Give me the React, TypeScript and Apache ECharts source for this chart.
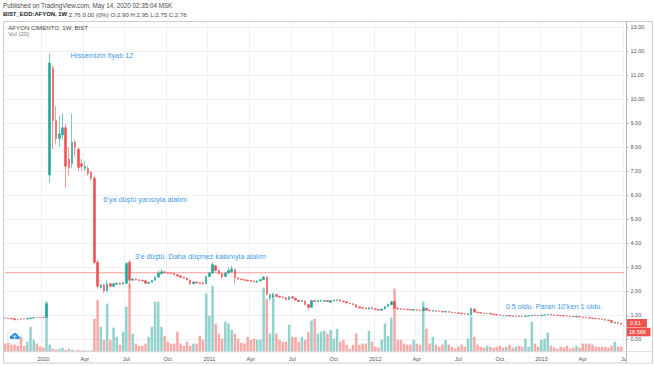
import React, { useEffect, useRef } from "react";
import * as echarts from "echarts";

// Weekly candles [open, close, low, high], week of 2009-10-12 onward
const candles: number[][] = [
  [0.88, 0.87, 0.86, 0.89], [0.87, 0.86, 0.85, 0.88], [0.86, 0.84, 0.83, 0.87], [0.84, 0.8, 0.79, 0.85],
  [0.81, 0.8, 0.78, 0.82], [0.84, 0.83, 0.81, 0.86], [0.84, 0.83, 0.82, 0.85], [0.83, 0.86, 0.82, 0.87],
  [0.85, 0.88, 0.84, 0.89], [0.87, 0.89, 0.86, 0.9], [0.9, 0.89, 0.88, 0.91], [0.9, 0.89, 0.88, 0.91],
  [0.9, 0.89, 0.88, 0.92], [0.9, 1.45, 0.89, 1.55], [6.83, 11.5, 6.5, 11.9], [11.27, 9.1, 7.9, 11.4],
  [9.1, 8.35, 8.1, 9.7], [8.35, 8.55, 8.0, 9.3], [8.5, 8.8, 8.3, 9.4], [8.8, 7.2, 6.3, 8.95],
  [7.5, 7.15, 6.8, 8.0], [7.3, 8.2, 7.1, 9.4], [8.2, 7.98, 7.6, 8.3], [7.9, 7.15, 7.0, 8.0],
  [7.3, 7.2, 7.0, 7.5], [7.1, 7.2, 7.0, 7.4], [7.1, 6.9, 6.8, 7.2], [6.95, 6.7, 6.6, 7.0],
  [6.7, 3.2, 3.1, 6.8], [3.2, 2.2, 2.1, 3.3], [2.15, 2.25, 2.1, 2.3], [2.25, 2.0, 1.92, 2.3],
  [2.0, 2.3, 1.98, 2.45], [2.3, 2.2, 2.15, 2.35], [2.2, 2.3, 2.15, 2.35], [2.28, 2.32, 2.25, 2.36],
  [2.32, 2.28, 2.25, 2.35], [2.28, 2.34, 2.26, 2.37], [2.32, 3.15, 2.3, 3.2], [3.2, 2.45, 2.1, 3.3],
  [2.45, 2.5, 2.42, 2.53], [2.5, 2.46, 2.44, 2.52], [2.47, 2.44, 2.42, 2.49], [2.45, 2.42, 2.4, 2.47],
  [2.43, 2.32, 2.3, 2.45], [2.32, 2.36, 2.28, 2.38], [2.36, 2.45, 2.34, 2.47], [2.45, 2.58, 2.43, 2.6],
  [2.58, 2.75, 2.55, 2.85], [2.72, 2.8, 2.7, 2.9], [2.8, 2.76, 2.74, 2.82], [2.77, 2.74, 2.72, 2.79],
  [2.75, 2.72, 2.7, 2.77], [2.73, 2.68, 2.66, 2.75], [2.68, 2.62, 2.6, 2.7], [2.63, 2.57, 2.55, 2.65],
  [2.58, 2.53, 2.51, 2.6], [2.54, 2.46, 2.44, 2.56], [2.46, 2.3, 2.25, 2.48], [2.3, 2.38, 2.28, 2.4],
  [2.38, 2.33, 2.31, 2.4], [2.36, 2.32, 2.3, 2.38], [2.34, 2.3, 2.27, 2.36], [2.3, 2.6, 2.28, 2.63],
  [2.6, 2.75, 2.58, 2.8], [2.75, 3.1, 2.72, 3.2], [3.05, 2.85, 2.82, 3.1], [2.85, 2.72, 2.7, 2.88],
  [2.72, 2.6, 2.5, 2.75], [2.6, 2.75, 2.58, 2.78], [2.75, 2.85, 2.72, 3.0], [2.8, 2.92, 2.78, 3.05],
  [2.9, 2.55, 2.3, 2.92], [2.55, 2.5, 2.48, 2.57], [2.5, 2.47, 2.45, 2.52], [2.47, 2.45, 2.43, 2.49],
  [2.45, 2.42, 2.4, 2.47], [2.44, 2.4, 2.38, 2.46], [2.42, 2.38, 2.36, 2.44], [2.36, 2.42, 2.34, 2.44],
  [2.42, 2.48, 2.4, 2.5], [2.48, 2.58, 2.46, 2.62], [2.58, 1.88, 1.8, 2.6], [1.7, 1.85, 1.6, 1.88],
  [1.75, 1.88, 1.72, 1.92], [1.85, 1.77, 1.75, 1.87], [1.78, 1.74, 1.72, 1.8], [1.75, 1.72, 1.7, 1.77],
  [1.72, 1.64, 1.62, 1.74], [1.64, 1.76, 1.62, 1.78], [1.76, 1.7, 1.68, 1.78], [1.7, 1.62, 1.6, 1.72],
  [1.62, 1.56, 1.54, 1.64], [1.56, 1.6, 1.54, 1.62], [1.58, 1.44, 1.42, 1.6], [1.44, 1.32, 1.22, 1.46],
  [1.32, 1.6, 1.3, 1.62], [1.6, 1.56, 1.54, 1.62], [1.56, 1.6, 1.54, 1.62], [1.58, 1.61, 1.56, 1.63],
  [1.57, 1.6, 1.55, 1.62], [1.6, 1.56, 1.54, 1.62], [1.53, 1.6, 1.51, 1.62], [1.58, 1.62, 1.56, 1.64],
  [1.6, 1.63, 1.58, 1.65], [1.63, 1.58, 1.56, 1.65], [1.58, 1.55, 1.53, 1.6], [1.55, 1.5, 1.48, 1.57],
  [1.5, 1.47, 1.45, 1.52], [1.47, 1.43, 1.41, 1.49], [1.43, 1.32, 1.3, 1.45], [1.34, 1.3, 1.28, 1.36],
  [1.31, 1.28, 1.26, 1.33], [1.29, 1.26, 1.24, 1.31], [1.25, 1.3, 1.23, 1.32], [1.3, 1.26, 1.24, 1.32],
  [1.26, 1.23, 1.21, 1.28], [1.23, 1.2, 1.18, 1.25], [1.2, 1.25, 1.18, 1.27], [1.25, 1.35, 1.23, 1.37],
  [1.35, 1.45, 1.33, 1.47], [1.43, 1.55, 1.41, 1.6], [1.55, 1.28, 1.25, 1.62], [1.28, 1.25, 1.23, 1.3],
  [1.26, 1.24, 1.22, 1.28], [1.25, 1.23, 1.21, 1.27], [1.24, 1.22, 1.2, 1.26], [1.23, 1.21, 1.19, 1.25],
  [1.2, 1.23, 1.18, 1.25], [1.22, 1.2, 1.18, 1.24], [1.2, 1.18, 1.16, 1.22], [1.18, 1.28, 1.16, 1.36],
  [1.28, 1.2, 1.18, 1.3], [1.2, 1.18, 1.16, 1.22], [1.16, 1.19, 1.14, 1.21], [1.18, 1.16, 1.14, 1.2],
  [1.16, 1.15, 1.13, 1.18], [1.15, 1.13, 1.11, 1.17], [1.12, 1.15, 1.1, 1.17], [1.14, 1.12, 1.1, 1.16],
  [1.12, 1.1, 1.08, 1.14], [1.1, 1.09, 1.07, 1.12], [1.09, 1.07, 1.05, 1.11], [1.07, 1.05, 1.03, 1.09],
  [1.05, 1.04, 1.02, 1.07], [1.02, 1.05, 1.0, 1.07], [1.0, 1.28, 0.98, 1.3], [1.25, 1.12, 1.1, 1.27],
  [1.12, 1.1, 1.08, 1.14], [1.1, 1.08, 1.06, 1.12], [1.08, 1.06, 1.04, 1.1], [1.06, 1.07, 1.04, 1.09],
  [1.07, 1.04, 1.02, 1.09], [1.04, 1.02, 1.0, 1.06], [1.02, 1.0, 0.98, 1.04], [1.0, 0.98, 0.96, 1.02],
  [0.98, 0.97, 0.95, 1.0], [0.97, 0.98, 0.95, 1.0], [0.98, 0.96, 0.94, 1.0], [0.96, 0.95, 0.93, 0.98],
  [0.95, 0.96, 0.93, 0.98], [0.96, 0.94, 0.92, 0.98], [0.95, 0.94, 0.92, 0.97], [0.94, 0.96, 0.92, 0.98],
  [0.96, 0.97, 0.94, 0.99], [0.96, 0.99, 0.94, 1.01], [0.99, 0.98, 0.96, 1.01], [0.98, 0.97, 0.95, 1.0],
  [0.97, 0.99, 0.95, 1.01], [0.99, 1.0, 0.97, 1.02], [1.0, 1.02, 0.98, 1.04], [1.02, 1.0, 0.98, 1.04],
  [1.0, 0.99, 0.97, 1.02], [0.99, 0.98, 0.96, 1.01], [0.98, 0.97, 0.95, 1.0], [0.97, 0.96, 0.94, 0.99],
  [0.96, 0.95, 0.93, 0.98], [0.95, 0.94, 0.92, 0.97], [0.94, 0.93, 0.91, 0.96], [0.92, 0.94, 0.9, 0.96],
  [0.94, 0.92, 0.9, 0.96], [0.92, 0.9, 0.88, 0.94], [0.9, 0.89, 0.87, 0.92], [0.89, 0.87, 0.85, 0.91],
  [0.87, 0.86, 0.84, 0.89], [0.86, 0.85, 0.83, 0.88], [0.85, 0.83, 0.81, 0.87], [0.83, 0.82, 0.8, 0.85],
  [0.82, 0.79, 0.77, 0.84], [0.79, 0.77, 0.75, 0.81], [0.77, 0.69, 0.67, 0.79], [0.66, 0.7, 0.64, 0.72],
  [0.69, 0.66, 0.64, 0.71], [0.66, 0.61, 0.6, 0.68],
];

// Weekly volume, thousands
const volumesK: number[] = [
  30, 33, 26, 26, 22, 55, 22, 37, 92, 44, 30, 18, 15, 185, 26, 11, 7, 11, 15, 7,
  11, 7, 4, 7, 4, 4, 4, 4, 122, 192, 92, 44, 178, 44, 89, 55, 26, 74, 166, 252,
  67, 30, 22, 22, 30, 55, 92, 185, 185, 92, 59, 37, 30, 30, 74, 30, 22, 37, 22, 30,
  30, 59, 44, 215, 133, 244, 104, 67, 48, 111, 104, 81, 67, 48, 33, 30, 55, 44, 48, 44,
  44, 237, 196, 67, 204, 67, 44, 37, 37, 100, 55, 55, 37, 55, 44, 74, 115, 122, 67, 74,
  78, 67, 81, 48, 85, 37, 44, 26, 11, 26, 67, 26, 30, 30, 78, 37, 18, 15, 44, 104,
  59, 126, 233, 44, 44, 30, 26, 26, 44, 30, 26, 185, 85, 30, 55, 26, 18, 26, 44, 26,
  18, 11, 18, 26, 18, 48, 130, 55, 26, 18, 15, 22, 18, 15, 18, 22, 15, 18, 26, 15,
  18, 22, 18, 48, 18, 111, 30, 18, 44, 48, 70, 22, 15, 11, 18, 15, 22, 11, 15, 22,
  15, 30, 30, 30, 26, 18, 18, 18, 18, 15, 22, 37, 18, 18.56,
];

const tickIndices: number[] = [12, 25, 38, 51, 64, 77, 90, 103, 116, 129, 142, 155, 168, 181, 194];
const tickLabels: string[] = ["2010", "Apr", "Jul", "Oct", "2011", "Apr", "Jul", "Oct", "2012", "Apr", "Jul", "Oct", "2013", "Apr", "Jul"];

const priceLine = 2.76;
const lastPriceLabel = "0.61";
const lastVolumeLabel = "18.56K";

const annotations = [
  { text: "Hissemizin fiyatı 12", x: 70.5, y: 55 },
  { text: "6'ya düştü yarısıyla alalım", x: 103.3, y: 199.3 },
  { text: "3'e düştü. Daha düşmez kalanıyla alalım", x: 135, y: 256.7 },
  { text: "0.5 oldu. Paran 10'ken 1 oldu.", x: 505.7, y: 306 },
];

const WEEKS = 195;
const categories: string[] = [];
{
  const start = Date.UTC(2009, 9, 12);
  for (let i = 0; i < WEEKS; i++) {
    const d = new Date(start + i * 7 * 86400000);
    categories.push(d.toISOString().slice(0, 10));
  }
}

const UP = "#26a69a";
const DOWN = "#ef5350";
const UP_VOL = "rgba(38,166,154,0.5)";
const DOWN_VOL = "rgba(239,83,80,0.5)";
const FONT = '"Liberation Sans", Arial, sans-serif';
const AXIS_TEXT = "#50535e";
const GRID_LINE = "#eef0f5";
const PRICE_LINE = "#f29a9a";

const labelMap: Record<number, string> = {};
tickIndices.forEach((t, k) => (labelMap[t] = tickLabels[k]));
const isTick = (index: number) => labelMap[index] !== undefined;

function txt(text: string, x: number, y: number, opts: any = {}) {
  return {
    type: "text",
    x,
    y,
    z: opts.z ?? 50,
    silent: true,
    style: {
      text,
      fill: opts.fill ?? "#555",
      fontSize: opts.fontSize ?? 6,
      fontFamily: FONT,
      fontWeight: opts.fontWeight ?? "normal",
      align: opts.align ?? "left",
      textAlign: opts.align ?? "left",
      verticalAlign: "middle",
      textVerticalAlign: "middle",
      rich: opts.rich,
    },
  };
}

export default function App() {
  const ref = useRef<HTMLDivElement>(null);

  useEffect(() => {
    document.body.style.margin = "0";
    if (!ref.current) return;
    const chart = echarts.init(ref.current, undefined, { renderer: "svg" });

    const gridLeft = 3.4;
    const gridRight = 28;

    const option: any = {
      animation: false,
      backgroundColor: "#ffffff",
      grid: [
        { left: gridLeft, right: gridRight, top: 27, height: 312 },
        { left: gridLeft, right: gridRight, top: 22, bottom: 14.3 },
      ],
      xAxis: [
        { type: "category", gridIndex: 0, data: categories, show: false },
        {
          type: "category",
          gridIndex: 1,
          data: categories,
          axisLine: { show: false },
          axisTick: { show: false },
          axisLabel: {
            interval: (index: number) => isTick(index),
            formatter: (_v: string, index: number) => labelMap[index] ?? "",
            fontSize: 5.5,
            fontFamily: FONT,
            color: AXIS_TEXT,
            margin: 4,
          },
          splitLine: {
            show: true,
            interval: (index: number) => isTick(index),
            lineStyle: { color: GRID_LINE, width: 1 },
          },
        },
      ],
      yAxis: [
        {
          type: "value",
          gridIndex: 0,
          position: "right",
          min: 0,
          max: 13,
          interval: 1,
          axisLine: { show: false },
          axisTick: { show: true, length: 2.5, lineStyle: { color: "#b2b5be" } },
          axisLabel: {
            formatter: (v: number) => v.toFixed(2),
            fontSize: 5.5,
            fontFamily: FONT,
            color: AXIS_TEXT,
            margin: 4.5,
          },
          splitLine: { show: true, lineStyle: { color: GRID_LINE, width: 1 } },
        },
        { type: "value", gridIndex: 1, min: 0, max: 1220, show: false },
      ],
      series: [
        {
          type: "bar",
          xAxisIndex: 1,
          yAxisIndex: 1,
          barWidth: "78%",
          data: volumesK.map((v, i) => ({
            value: v,
            itemStyle: { color: candles[i][1] >= candles[i][0] ? UP_VOL : DOWN_VOL },
          })),
        },
        {
          type: "line",
          xAxisIndex: 0,
          yAxisIndex: 0,
          silent: true,
          showSymbol: false,
          symbol: "none",
          z: 1,
          lineStyle: { color: PRICE_LINE, width: 1 },
          itemStyle: { color: PRICE_LINE },
          data: [
            [categories[0], priceLine],
            [categories[categories.length - 1], priceLine],
          ],
        },
        {
          type: "candlestick",
          xAxisIndex: 0,
          yAxisIndex: 0,
          barWidth: 2,
          data: candles,
          itemStyle: {
            color: UP,
            color0: DOWN,
            borderColor: UP,
            borderColor0: DOWN,
            borderWidth: 0.6,
          },
        },
      ],
      graphic: [
        // header
        txt("Published on TradingView.com, May 14, 2020 02:35:04 MSK", 3, 5.7, { fill: "#4a4a4a", fontSize: 6.3 }),
        txt("{b|BIST_EOD:AFYON, 1W} 2.76 0.00 (0%) O:2.90 H:2.95 L:2.75 C:2.76", 3, 14.3, {
          fill: "#4a4a4a",
          fontSize: 6.1,
          rich: {
            b: { fontWeight: "bold", fill: "#131722", color: "#131722", fontSize: 5.9, fontFamily: FONT },
          },
        }),
        // frame
        {
          type: "rect",
          z: 40,
          silent: true,
          shape: { x: 3.5, y: 21.5, width: 649, height: 341.5 },
          style: { fill: "none", stroke: "#c9ccd3", lineWidth: 1 },
        },
        {
          type: "line",
          z: 40,
          silent: true,
          shape: { x1: 626.5, y1: 21.5, x2: 626.5, y2: 363 },
          style: { stroke: "#b2b5be", lineWidth: 1 },
        },
        {
          type: "line",
          z: 40,
          silent: true,
          shape: { x1: 3.5, y1: 351.7, x2: 652.5, y2: 351.7 },
          style: { stroke: "#d6d8de", lineWidth: 1 },
        },
        // cover to clip last time label at the price scale
        {
          type: "rect",
          z: 45,
          silent: true,
          shape: { x: 627, y: 352.5, width: 25, height: 10 },
          style: { fill: "#ffffff" },
        },
        // legend texts
        txt("AFYON CIMENTO, 1W, BIST", 8.3, 27.7, { fill: "#4a4a4a", fontSize: 6.1 }),
        txt("Vol (20)", 8.3, 33.7, { fill: "#7a7d86", fontSize: 6.1 }),
        // annotations
        ...annotations.map((a) => txt(a.text, a.x, a.y, { fill: "#3d9ae8", fontSize: 7.3 })),
        // last price / volume boxes
        {
          type: "rect",
          z: 60,
          silent: true,
          shape: { x: 627, y: 319, width: 20, height: 8.5 },
          style: { fill: DOWN },
        },
        txt(lastPriceLabel, 630, 323.3, { fill: "#ffffff", fontSize: 5.5, z: 61 }),
        {
          type: "rect",
          z: 60,
          silent: true,
          shape: { x: 627, y: 327.8, width: 23.5, height: 8.5 },
          style: { fill: DOWN },
        },
        txt(lastVolumeLabel, 629, 332.1, { fill: "#ffffff", fontSize: 5.5, z: 61 }),
        // cloud badge
        {
          type: "group",
          z: 55,
          silent: true,
          children: [
            {
              type: "circle",
              shape: { cx: 14.6, cy: 336.6, r: 7.5 },
              style: { fill: "#ffffff", stroke: "#dfe2e8", lineWidth: 0.8 },
            },
            { type: "circle", shape: { cx: 12, cy: 337.5, r: 2.2 }, style: { fill: "#2e8fe6" } },
            { type: "circle", shape: { cx: 15, cy: 335.6, r: 2.8 }, style: { fill: "#2e8fe6" } },
            { type: "circle", shape: { cx: 17.8, cy: 337.6, r: 2 }, style: { fill: "#2e8fe6" } },
            { type: "rect", shape: { x: 11.8, y: 337.2, width: 6.2, height: 2.4 }, style: { fill: "#2e8fe6" } },
            {
              type: "polyline",
              shape: { points: [[13.2, 337], [14.8, 335.4], [16.4, 337]] },
              style: { stroke: "#ffffff", lineWidth: 0.8, fill: "none" },
            },
            {
              type: "line",
              shape: { x1: 14.8, y1: 335.6, x2: 14.8, y2: 339 },
              style: { stroke: "#ffffff", lineWidth: 0.8 },
            },
          ],
        },
      ],
    };

    chart.setOption(option);
    return () => chart.dispose();
  }, []);

  return <div ref={ref} style={{ width: 654, height: 366 }} />;
}
